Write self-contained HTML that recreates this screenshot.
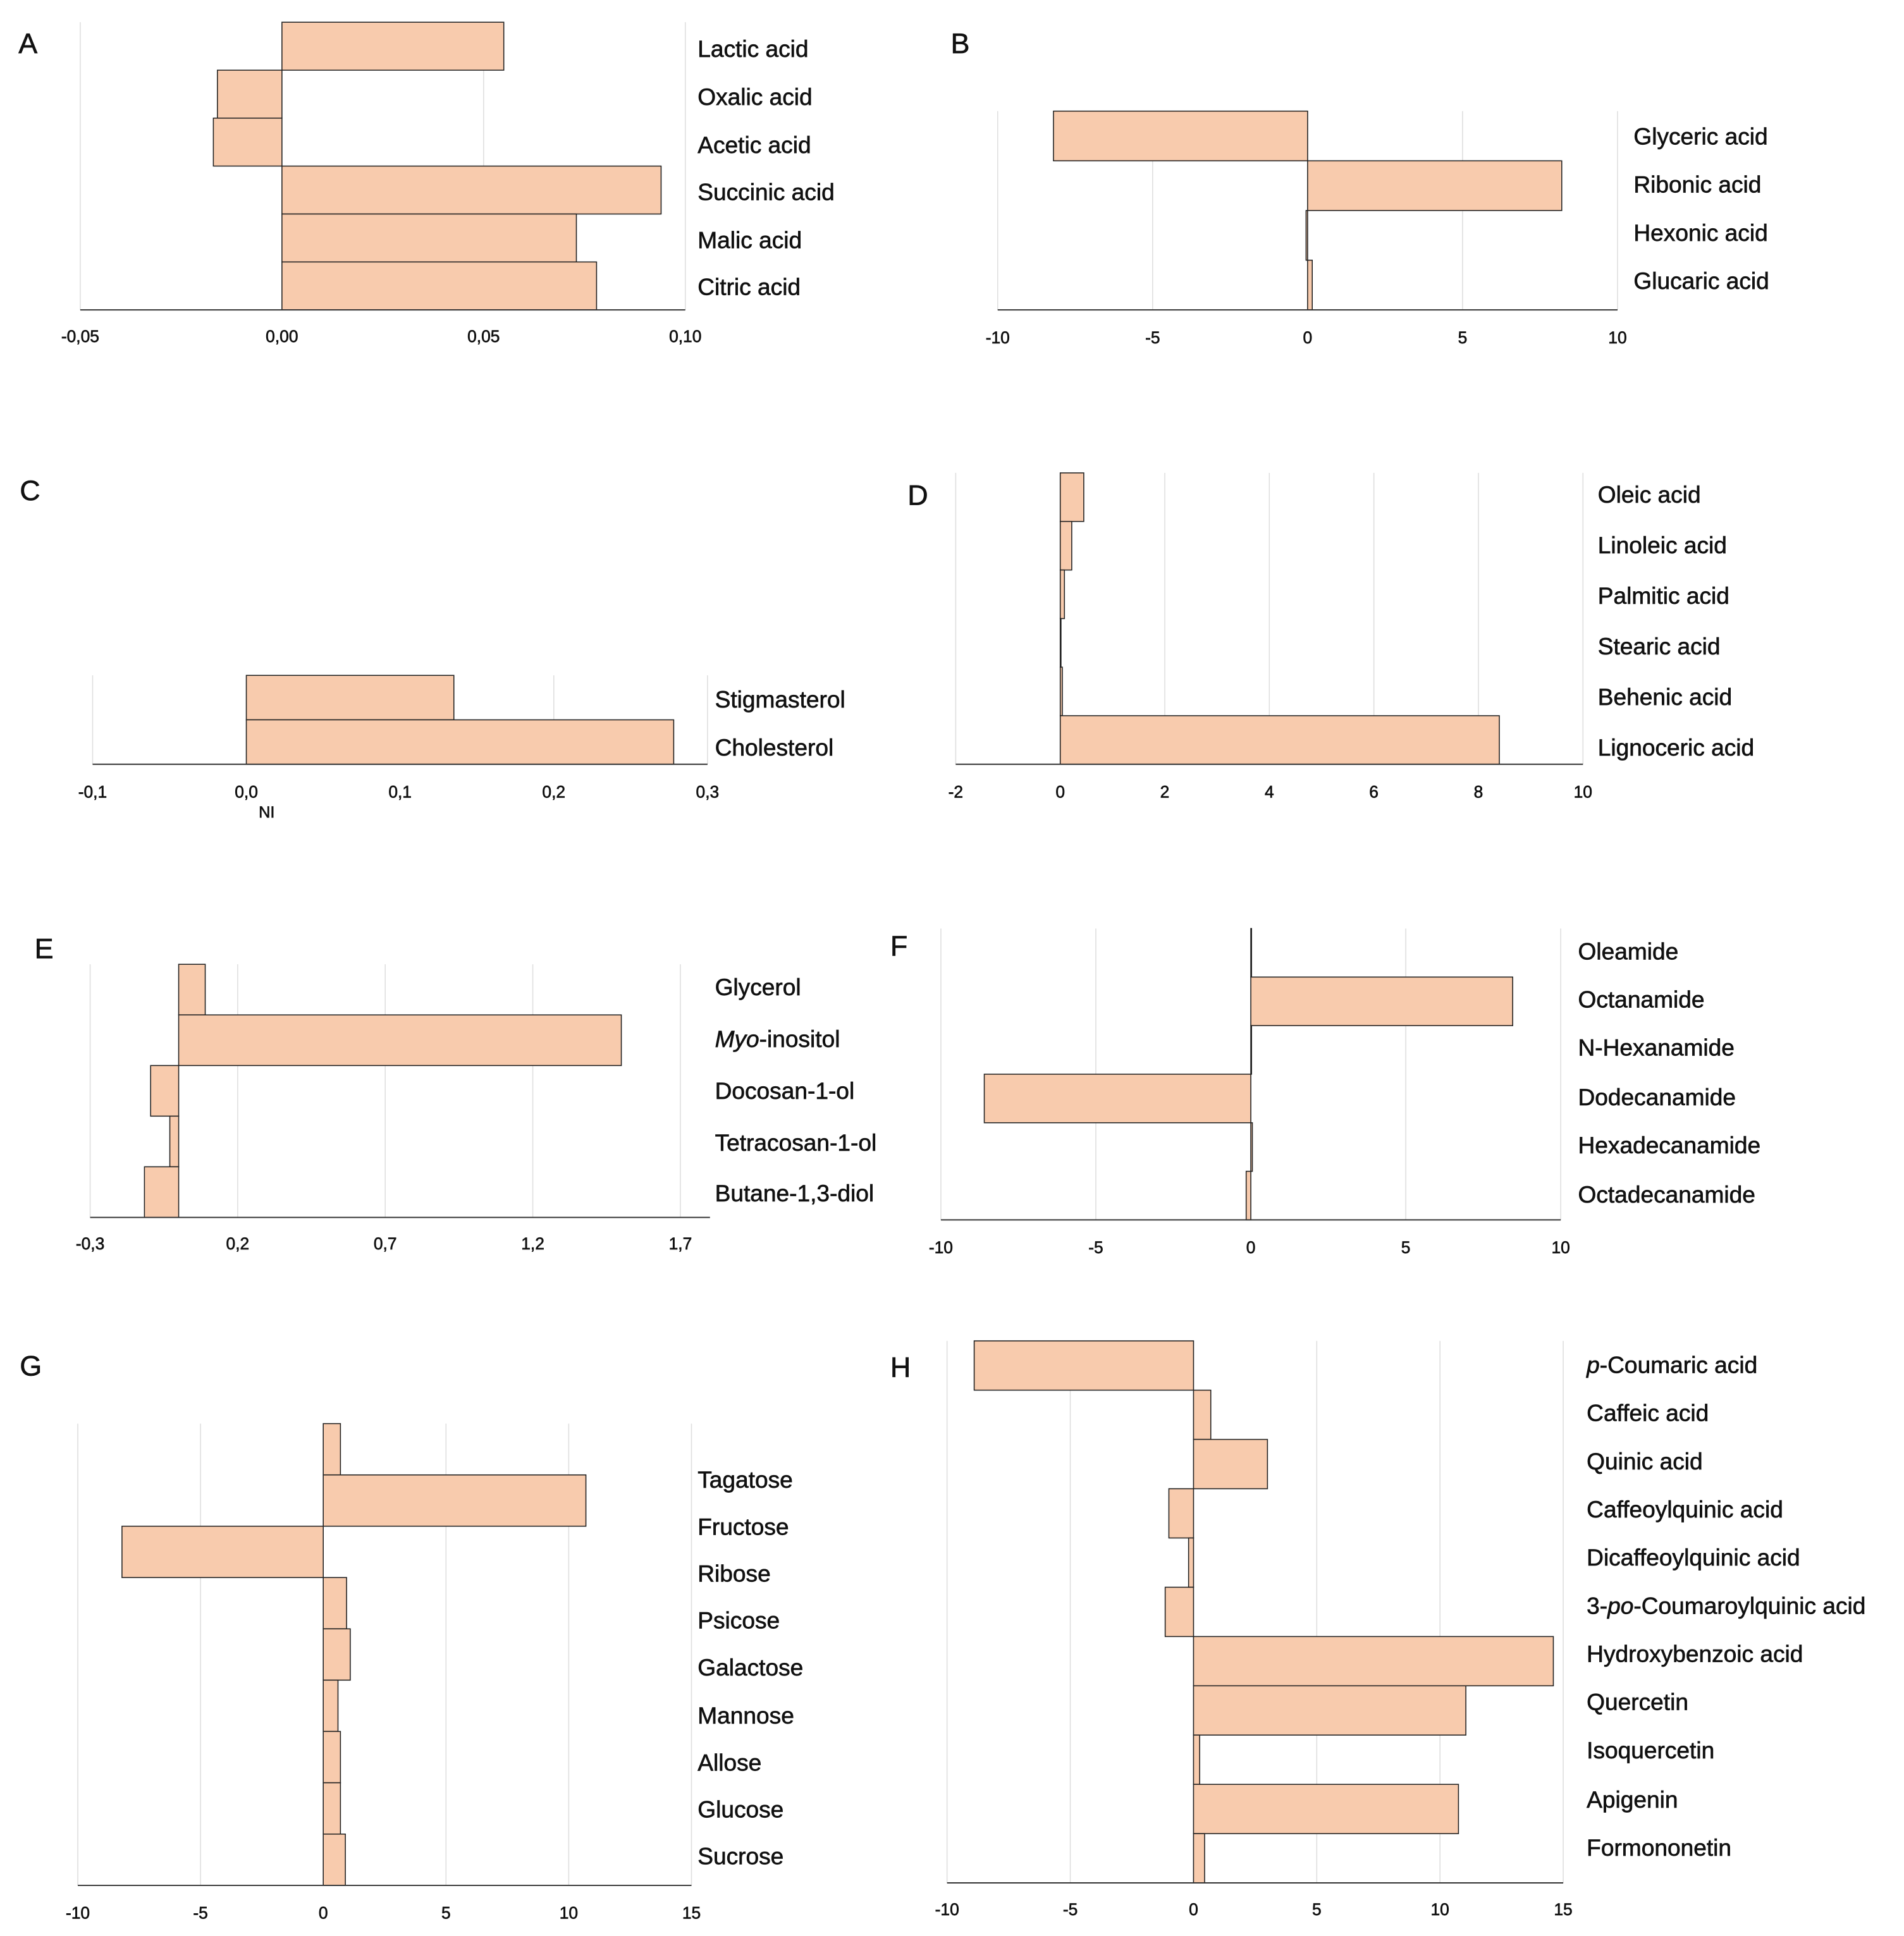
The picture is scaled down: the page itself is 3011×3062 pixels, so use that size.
<!DOCTYPE html>
<html><head><meta charset="utf-8">
<style>
html,body{margin:0;padding:0;background:#fff;}
svg{display:block;}
text{font-family:"Liberation Sans",sans-serif;fill:#111;stroke:#111;stroke-width:0.35px;}
</style></head>
<body>
<svg id="fig" width="3011" height="3062" viewBox="0 0 1542 1568" preserveAspectRatio="none" xmlns="http://www.w3.org/2000/svg">
<rect width="1542" height="1568" fill="#fff"/>
</svg>
<script>
const catsA=["Lactic acid","Oxalic acid","Acetic acid","Succinic acid","Malic acid","Citric acid"];
const valsA=[0.055,-0.016,-0.017,0.094,0.073,0.078];
const ticksA=["-0,05","0,00","0,05","0,10"];
const tickValsA=[-0.05,0,0.05,0.10];

const catsB=["Glyceric acid","Ribonic acid","Hexonic acid","Glucaric acid"];
const valsB=[-8.2,8.2,-0.05,0.15];
const ticksB=["-10","-5","0","5","10"];
const tickValsB=[-10,-5,0,5,10];

const catsC=["Stigmasterol","Cholesterol"];
const valsC=[0.135,0.278];
const ticksC=["-0,1","0,0","0,1","0,2","0,3"];
const tickValsC=[-0.1,0,0.1,0.2,0.3];

const catsD=["Oleic acid","Linoleic acid","Palmitic acid","Stearic acid","Behenic acid","Lignoceric acid"];
const valsD=[0.45,0.22,0.08,0.01,0.04,8.4];
const ticksD=["-2","0","2","4","6","8","10"];
const tickValsD=[-2,0,2,4,6,8,10];

const catsE=["Glycerol","<i>Myo</i>-inositol","Docosan-1-ol","Tetracosan-1-ol","Butane-1,3-diol"];
const valsE=[0.09,1.5,-0.095,-0.03,-0.116];
const ticksE=["-0,3","0,2","0,7","1,2","1,7"];
const tickValsE=[-0.3,0.2,0.7,1.2,1.7];

const catsF=["Oleamide","Octanamide","N-Hexanamide","Dodecanamide","Hexadecanamide","Octadecanamide"];
const valsF=[0.02,8.45,0,-8.6,0.05,-0.15];
const ticksF=["-10","-5","0","5","10"];
const tickValsF=[-10,-5,0,5,10];

const catsG=["Tagatose","Fructose","Ribose","Psicose","Galactose","Mannose","Allose","Glucose","Sucrose"];
const valsG=[0.7,10.7,-8.2,0.95,1.1,0.6,0.7,0.7,0.9];
const ticksG=["-10","-5","0","5","10","15"];
const tickValsG=[-10,-5,0,5,10,15];

const catsH=["<i>p</i>-Coumaric acid","Caffeic acid","Quinic acid","Caffeoylquinic  acid","Dicaffeoylquinic acid","3-<i>po</i>-Coumaroylquinic acid","Hydroxybenzoic acid","Quercetin","Isoquercetin","Apigenin","Formononetin"];
const valsH=[-8.9,0.7,3.0,-1.0,-0.2,-1.15,14.6,11.05,0.25,10.75,0.45];
const ticksH=["-10","-5","0","5","10","15"];
const tickValsH=[-10,-5,0,5,10,15];

const panels=[
 {id:"a",letter:"A",lx:15,ly:43,cats:catsA,vals:valsA,ticks:ticksA,tv:tickValsA,x0:65,x1:555,top:18,bot:251,labX:565,labY:[39,78,117,155,194,232],tickY:277},
 {id:"b",letter:"B",lx:770,ly:43,cats:catsB,vals:valsB,ticks:ticksB,tv:tickValsB,x0:808,x1:1310,top:90,bot:251,labX:1323,labY:[110,149,188,227],tickY:278},
 {id:"c",letter:"C",lx:16,ly:405,cats:catsC,vals:valsC,ticks:ticksC,tv:tickValsC,x0:75,x1:573,top:547,bot:619,labX:579,labY:[566,605],tickY:646},
 {id:"d",letter:"D",lx:735,ly:409,cats:catsD,vals:valsD,ticks:ticksD,tv:tickValsD,x0:774,x1:1282,top:383,bot:619,labX:1294,labY:[400,441,482,523,564,605],tickY:646},
 {id:"e",letter:"E",lx:28,ly:776,cats:catsE,vals:valsE,ticks:ticksE,tv:tickValsE,x0:73,x1:551,axEnd:575,top:781,bot:986,labX:579,labY:[799,841,883,925,966],tickY:1012},
 {id:"f",letter:"F",lx:721,ly:774,cats:catsF,vals:valsF,ticks:ticksF,tv:tickValsF,x0:762,x1:1264,top:752,bot:988,labX:1278,labY:[770,809,848,888,927,967],tickY:1015},
 {id:"g",letter:"G",lx:16,ly:1114,cats:catsG,vals:valsG,ticks:ticksG,tv:tickValsG,x0:63,x1:560,top:1153,bot:1527,labX:565,labY:[1198,1236,1274,1312,1350,1389,1427,1465,1503],tickY:1554},
 {id:"h",letter:"H",lx:721,ly:1115,cats:catsH,vals:valsH,ticks:ticksH,tv:tickValsH,x0:767,x1:1266,top:1086,bot:1525,labX:1285,labY:[1105,1144,1183,1222,1261,1300,1339,1378,1417,1457,1496],tickY:1551}
];
const NS="http://www.w3.org/2000/svg";
const svg=document.getElementById("fig");
function mk(tag,attrs,parent){const e=document.createElementNS(NS,tag);for(const k in attrs)e.setAttribute(k,attrs[k]);parent.appendChild(e);return e;}
panels.forEach(p=>{
 const g=mk("g",{},svg);
 
 
 const vmin=p.tv[0],vmax=p.tv[p.tv.length-1];
 const xs=v=>p.x0+(v-vmin)/(vmax-vmin)*(p.x1-p.x0);
 p.tv.forEach((v,i)=>{
  const gl=mk("line",{x1:xs(v),x2:xs(v),y1:p.top,y2:p.bot,stroke:"#dedede","stroke-width":0.8},g);
  
  
  const t=mk("text",{x:xs(v),y:p.tickY,"font-size":13.5,"text-anchor":"middle"},g);
  t.textContent=p.ticks[i];
  
  
 });
 const n=p.vals.length,bh=(p.bot-p.top)/n;
 p.vals.forEach((v,i)=>{
  const xa=xs(0),xb=xs(v);
  const r=mk("rect",{x:Math.min(xa,xb),y:p.top+i*bh,width:Math.max(Math.abs(xb-xa),0.6),height:bh,fill:"#f8cbad",stroke:"#222","stroke-width":0.8},g);
  
  
 });
 const ax=mk("line",{x1:p.x0,x2:p.axEnd||p.x1,y1:p.bot,y2:p.bot,stroke:"#333","stroke-width":1},g);
 
 
 p.cats.forEach((c,i)=>{
  const t=mk("text",{x:p.labX,y:p.labY[i]+7,"font-size":19},g);
  t.innerHTML=c.replace(/<i>(.*?)<\/i>/g,'<tspan font-style="italic">$1</tspan>');
  
  
 });
 const L=mk("text",{x:p.lx,y:p.ly,"font-size":23},g);
 L.textContent=p.letter;
 
 
});
const ni=mk("text",{x:216,y:662,"font-size":13,"text-anchor":"middle"},svg);
ni.textContent="NI";


</script>
</body></html>
